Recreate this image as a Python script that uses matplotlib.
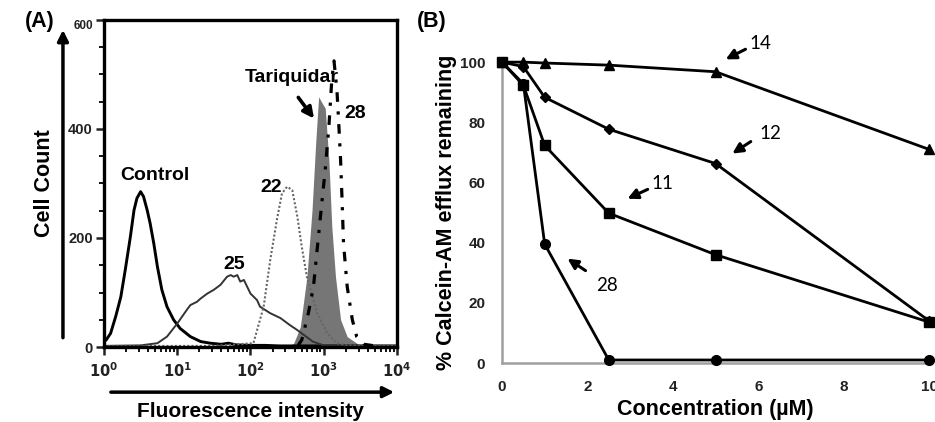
import numpy as np
import matplotlib
matplotlib.use("Agg")
import matplotlib.pyplot as plt
from matplotlib.ticker import FixedLocator, NullFormatter

plt.rcParams['font.family'] = ['Liberation Sans', 'DejaVu Sans']

# === Panel A: flow cytometry histograms (log10 of intensity, cell count) ===
control_logx = [0.0, 0.03, 0.09, 0.16, 0.23, 0.29, 0.36, 0.41, 0.45, 0.50, 0.54, 0.59,
                0.63, 0.68, 0.73, 0.79, 0.86, 0.95, 1.04, 1.18, 1.32, 1.45, 1.6, 1.7,
                1.8, 2.0, 2.2, 2.4, 2.6, 3.0, 3.5, 4.0]
control_count = [10, 13, 25, 56, 92, 141, 202, 251, 273, 285, 276, 251,
                 227, 190, 147, 105, 74, 50, 34, 19, 10, 7, 5, 7,
                 4, 3, 3, 2, 2, 2, 2, 2]

c25_logx = [0.0, 0.5, 0.73, 0.86, 1.0, 1.13, 1.18, 1.27, 1.32, 1.41, 1.50, 1.59, 1.68,
            1.73, 1.77, 1.82, 1.86, 1.91, 2.0, 2.09, 2.13, 2.27, 2.41, 2.54, 2.64,
            2.75, 2.85, 3.0, 3.5, 4.0]
c25_count = [2, 3, 7, 19, 43, 68, 77, 83, 89, 98, 105, 114, 129,
             132, 129, 132, 120, 123, 98, 86, 74, 62, 53, 40, 31,
             20, 10, 3, 2, 2]

c22_logx = [0.0, 1.5, 2.04, 2.18, 2.27, 2.36, 2.43, 2.50, 2.57, 2.64, 2.70, 2.77,
            2.91, 3.05, 3.18, 3.3, 3.6, 4.0]
c22_count = [2, 2, 7, 74, 160, 233, 282, 294, 288, 239, 184, 129,
             62, 25, 7, 3, 2, 2]

tariq_logx = [2.5, 2.59, 2.68, 2.77, 2.84, 2.89, 2.93, 2.98, 3.02, 3.07, 3.11, 3.16,
              3.23, 3.32, 3.45, 3.5, 3.6]
tariq_count = [0, 7, 37, 129, 251, 374, 459, 447, 438, 343, 221, 129,
               50, 19, 7, 2, 0]

c28_logx = [2.65, 2.70, 2.79, 2.86, 2.95, 3.02, 3.07, 3.11, 3.14, 3.18, 3.20, 3.23,
            3.25, 3.27, 3.32, 3.39, 3.45, 3.55, 3.7]
c28_count = [3, 13, 62, 111, 233, 325, 404, 490, 525, 471, 423, 343,
             270, 190, 111, 50, 19, 5, 2]

# === Panel B: efflux vs concentration ===
conc = [0, 0.5, 1, 2.5, 5, 10]
efflux_14 = [100, 100, 99.7, 99, 96.8, 71]
efflux_12 = [100, 98.5, 88.3, 77.7, 66.3, 14]
efflux_11 = [100, 92.3, 72.3, 49.8, 36, 13.6]
efflux_28 = [100, 92.8, 39.5, 1, 1, 1]

fig = plt.figure(figsize=(9.35, 4.22), dpi=100)

# ---------------- Panel A ----------------
axA = fig.add_axes([0.1112, 0.1777, 0.3134, 0.775])
axA.fill_between(10 ** np.array(tariq_logx), tariq_count, color='#767676', lw=0, zorder=1)
axA.plot(10 ** np.array(control_logx), control_count, color='black', lw=2.1, zorder=3)
axA.plot(10 ** np.array(c25_logx), c25_count, color='#333333', lw=1.4, zorder=3)
axA.plot(10 ** np.array(c22_logx), c22_count, color='#666666', lw=1.5,
         linestyle=(0, (1, 1)), zorder=3)
axA.plot(10 ** np.array(c28_logx), c28_count, color='black', lw=2.3,
         linestyle=(0, (3, 3, 1, 3)), zorder=4)

axA.set_xscale('log')
axA.set_xlim(1, 1e4)
axA.set_ylim(0, 600)
for sp in axA.spines.values():
    sp.set_color('black')
    sp.set_linewidth(2.4)
    sp.set_zorder(6)

axA.xaxis.set_major_locator(FixedLocator([1, 10, 100, 1000, 10000]))
minors = [m * 10 ** d for d in range(4) for m in range(2, 10)]
axA.xaxis.set_minor_locator(FixedLocator(minors))
axA.xaxis.set_minor_formatter(NullFormatter())
axA.set_xticklabels([r'$\mathbf{10^{0}}$', r'$\mathbf{10^{1}}$', r'$\mathbf{10^{2}}$',
                     r'$\mathbf{10^{3}}$', r'$\mathbf{10^{4}}$'])
axA.set_yticks([0, 200, 400, 600])
axA.set_yticklabels(['0', '200', '400', '600'])
axA.yaxis.set_minor_locator(FixedLocator(list(range(50, 600, 50))))
axA.tick_params(axis='both', which='major', direction='out', length=6, width=1.8,
                labelsize=10.5, colors='#222222', pad=2)
axA.tick_params(axis='both', which='minor', direction='out', length=3.5, width=1.3)
axA.tick_params(axis='x', which='major', pad=4)
for lbl in axA.get_yticklabels():
    lbl.set_fontweight('bold')
axA.get_yticklabels()[-1].set_fontsize(8.5)
axA.get_yticklabels()[-1].set_verticalalignment('top')

# axis titles with arrows
axA.annotate('', xy=(-0.14, 0.978), xytext=(-0.14, 0.02), xycoords='axes fraction',
             arrowprops=dict(arrowstyle='-|>', color='black', lw=2.5,
                             mutation_scale=16), annotation_clip=False)
axA.annotate('', xy=(1.0, -0.138), xytext=(0.014, -0.138), xycoords='axes fraction',
             arrowprops=dict(arrowstyle='-|>', color='black', lw=2.5,
                             mutation_scale=16), annotation_clip=False)
axA.text(-0.202, 0.5, 'Cell Count', transform=axA.transAxes, rotation=90,
         ha='center', va='center', fontsize=15.5, fontweight='bold')
axA.text(0.5, -0.215, 'Fluorescence intensity', transform=axA.transAxes,
         ha='center', va='baseline', fontsize=15, fontweight='bold')

# curve labels
axA.text(10 ** 0.69, 314, 'Control', ha='center', va='center', fontsize=14, fontweight='bold')
axA.text(10 ** 1.78, 152, '25', ha='center', va='center', fontsize=14, fontweight='bold')
axA.text(10 ** 2.28, 292, '22', ha='center', va='center', fontsize=14, fontweight='bold')
axA.text(10 ** 2.57, 494, 'Tariquidar', ha='center', va='center', fontsize=14,
         fontweight='bold')
axA.text(10 ** 3.43, 429, '28', ha='center', va='center', fontsize=14, fontweight='bold')
axA.annotate('', xy=(10 ** 2.89, 415), xytext=(10 ** 2.63, 462),
             arrowprops=dict(arrowstyle='-|>', color='black', lw=2.6, mutation_scale=16))

fig.text(0.027, 0.948, '(A)', ha='left', va='center', fontsize=15.5, fontweight='bold')
fig.text(0.446, 0.948, '(B)', ha='left', va='center', fontsize=15.5, fontweight='bold')

# ---------------- Panel B ----------------
axB = fig.add_axes([0.5369, 0.1398, 0.4567, 0.713])
axB.plot(conc, efflux_14, color='black', lw=2, marker='^', ms=7, clip_on=False, zorder=3)
axB.plot(conc, efflux_12, color='black', lw=2, marker='D', ms=5, clip_on=False, zorder=3)
axB.plot(conc, efflux_11, color='black', lw=2, marker='s', ms=7.5, clip_on=False, zorder=3)
axB.plot(conc, efflux_28, color='black', lw=2, marker='o', ms=7, clip_on=False, zorder=3)
axB.set_xlim(0, 10)
axB.set_ylim(0, 100)
axB.set_xticks([0, 2, 4, 6, 8, 10])
axB.set_yticks([0, 20, 40, 60, 80, 100])
axB.spines['top'].set_visible(False)
axB.spines['right'].set_visible(False)
for s in ['left', 'bottom']:
    axB.spines[s].set_color('#a0a0a0')
    axB.spines[s].set_linewidth(1.8)
axB.tick_params(axis='both', length=0, labelsize=11, colors='#222222')
axB.tick_params(axis='y', pad=12)
axB.tick_params(axis='x', pad=12)
for lbl in axB.get_xticklabels() + axB.get_yticklabels():
    lbl.set_fontweight('bold')
axB.set_xlabel('Concentration (µM)', fontsize=15.5, fontweight='bold', labelpad=4)
axB.set_ylabel('% Calcein-AM efflux remaining', fontsize=15.5, fontweight='bold',
               labelpad=2)

arrow_kw = dict(arrowstyle='-|>', color='black', lw=2.2, mutation_scale=15)
labels_B = [('14', (6.04, 106.3), (5.76, 104.7), (5.18, 100.5)),
            ('12', (6.28, 76.4), (5.88, 74.1), (5.34, 69.1)),
            ('11', (3.75, 59.8), (3.47, 58.1), (2.88, 54.2)),
            ('28', (2.46, 25.9), (2.01, 30.2), (1.48, 35.2))]
for txt, tpos, tail, head in labels_B:
    axB.text(tpos[0], tpos[1], txt, ha='center', va='center', fontsize=13.5,
             family=['Lato', 'DejaVu Sans'], clip_on=False)
    axB.annotate('', xy=head, xytext=tail, arrowprops=arrow_kw, annotation_clip=False)

plt.savefig('out.png', dpi=100)
